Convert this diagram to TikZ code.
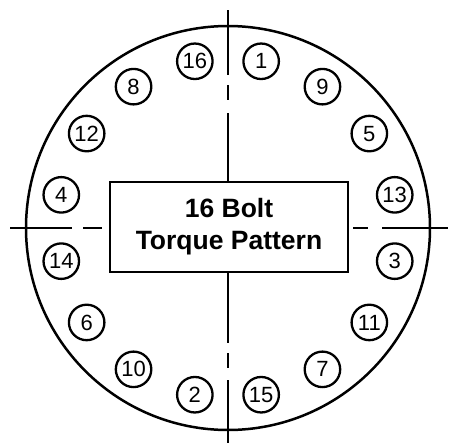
\documentclass[tikz,border=0pt]{standalone}
\usepackage{fontspec}
\setmainfont{Liberation Sans}
\usetikzlibrary{calc}
\begin{document}
\begin{tikzpicture}[x=1pt,y=-1pt,
  cline/.style={line width=2.4pt, black},
  bolt/.style={draw, circle, line width=2.3pt, minimum size=35.5pt, inner sep=0pt, font=\fontsize{22}{22}\selectfont},
  titlebox/.style={draw, line width=2pt, minimum width=238pt, minimum height=90pt, inner sep=0pt, align=center, font=\bfseries\fontsize{26.5}{32}\selectfont}]
\fill[white] (0,0) rectangle (451,445);
\useasboundingbox (0,0) rectangle (451,445);
\coordinate (c) at (228,228);
\node[draw, circle, line width=2.5pt, minimum size=404pt, inner sep=0pt] (flange) at (c) {};
\node[titlebox] (title) at (229,227) {16 Bolt\\Torque Pattern};
\foreach \n [count=\i from 0] in {1,9,5,13,3,11,7,15,2,10,6,14,4,12,8,16} {
  \pgfmathsetmacro{\ang}{78.75-22.5*\i}
  \node[bolt] (b\n) at ({228+170*cos(\ang)},{228-170*sin(\ang)}) {\n};
}
% vertical center line
\coordinate (vt0) at (228,10);  \coordinate (vt1) at (228,75);
\coordinate (vt2) at (228,85);  \coordinate (vt3) at (228,100);
\coordinate (vt4) at (228,113);
\coordinate (vb1) at (228,343); \coordinate (vb2) at (228,353);
\coordinate (vb3) at (228,368); \coordinate (vb4) at (228,380);
\coordinate (vb5) at (228,443);
\draw[cline] (vt0) -- (vt1);
\draw[cline] (vt2) -- (vt3);
\draw[cline] (vt4) -- (vt4 |- title.north);
\draw[cline] (vb1 |- title.south) -- (vb1);
\draw[cline] (vb2) -- (vb3);
\draw[cline] (vb4) -- (vb5);
% horizontal center line
\coordinate (hl0) at (10,228);  \coordinate (hl1) at (72,228);
\coordinate (hl2) at (83,228);  \coordinate (hl3) at (102,228);
\coordinate (hr0) at (353,228); \coordinate (hr1) at (368,228);
\coordinate (hr2) at (382,228); \coordinate (hr3) at (448,228);
\draw[cline] (hl0) -- (hl1);
\draw[cline] (hl2) -- (hl3);
\draw[cline] (hr0) -- (hr1);
\draw[cline] (hr2) -- (hr3);
\end{tikzpicture}
\end{document}
